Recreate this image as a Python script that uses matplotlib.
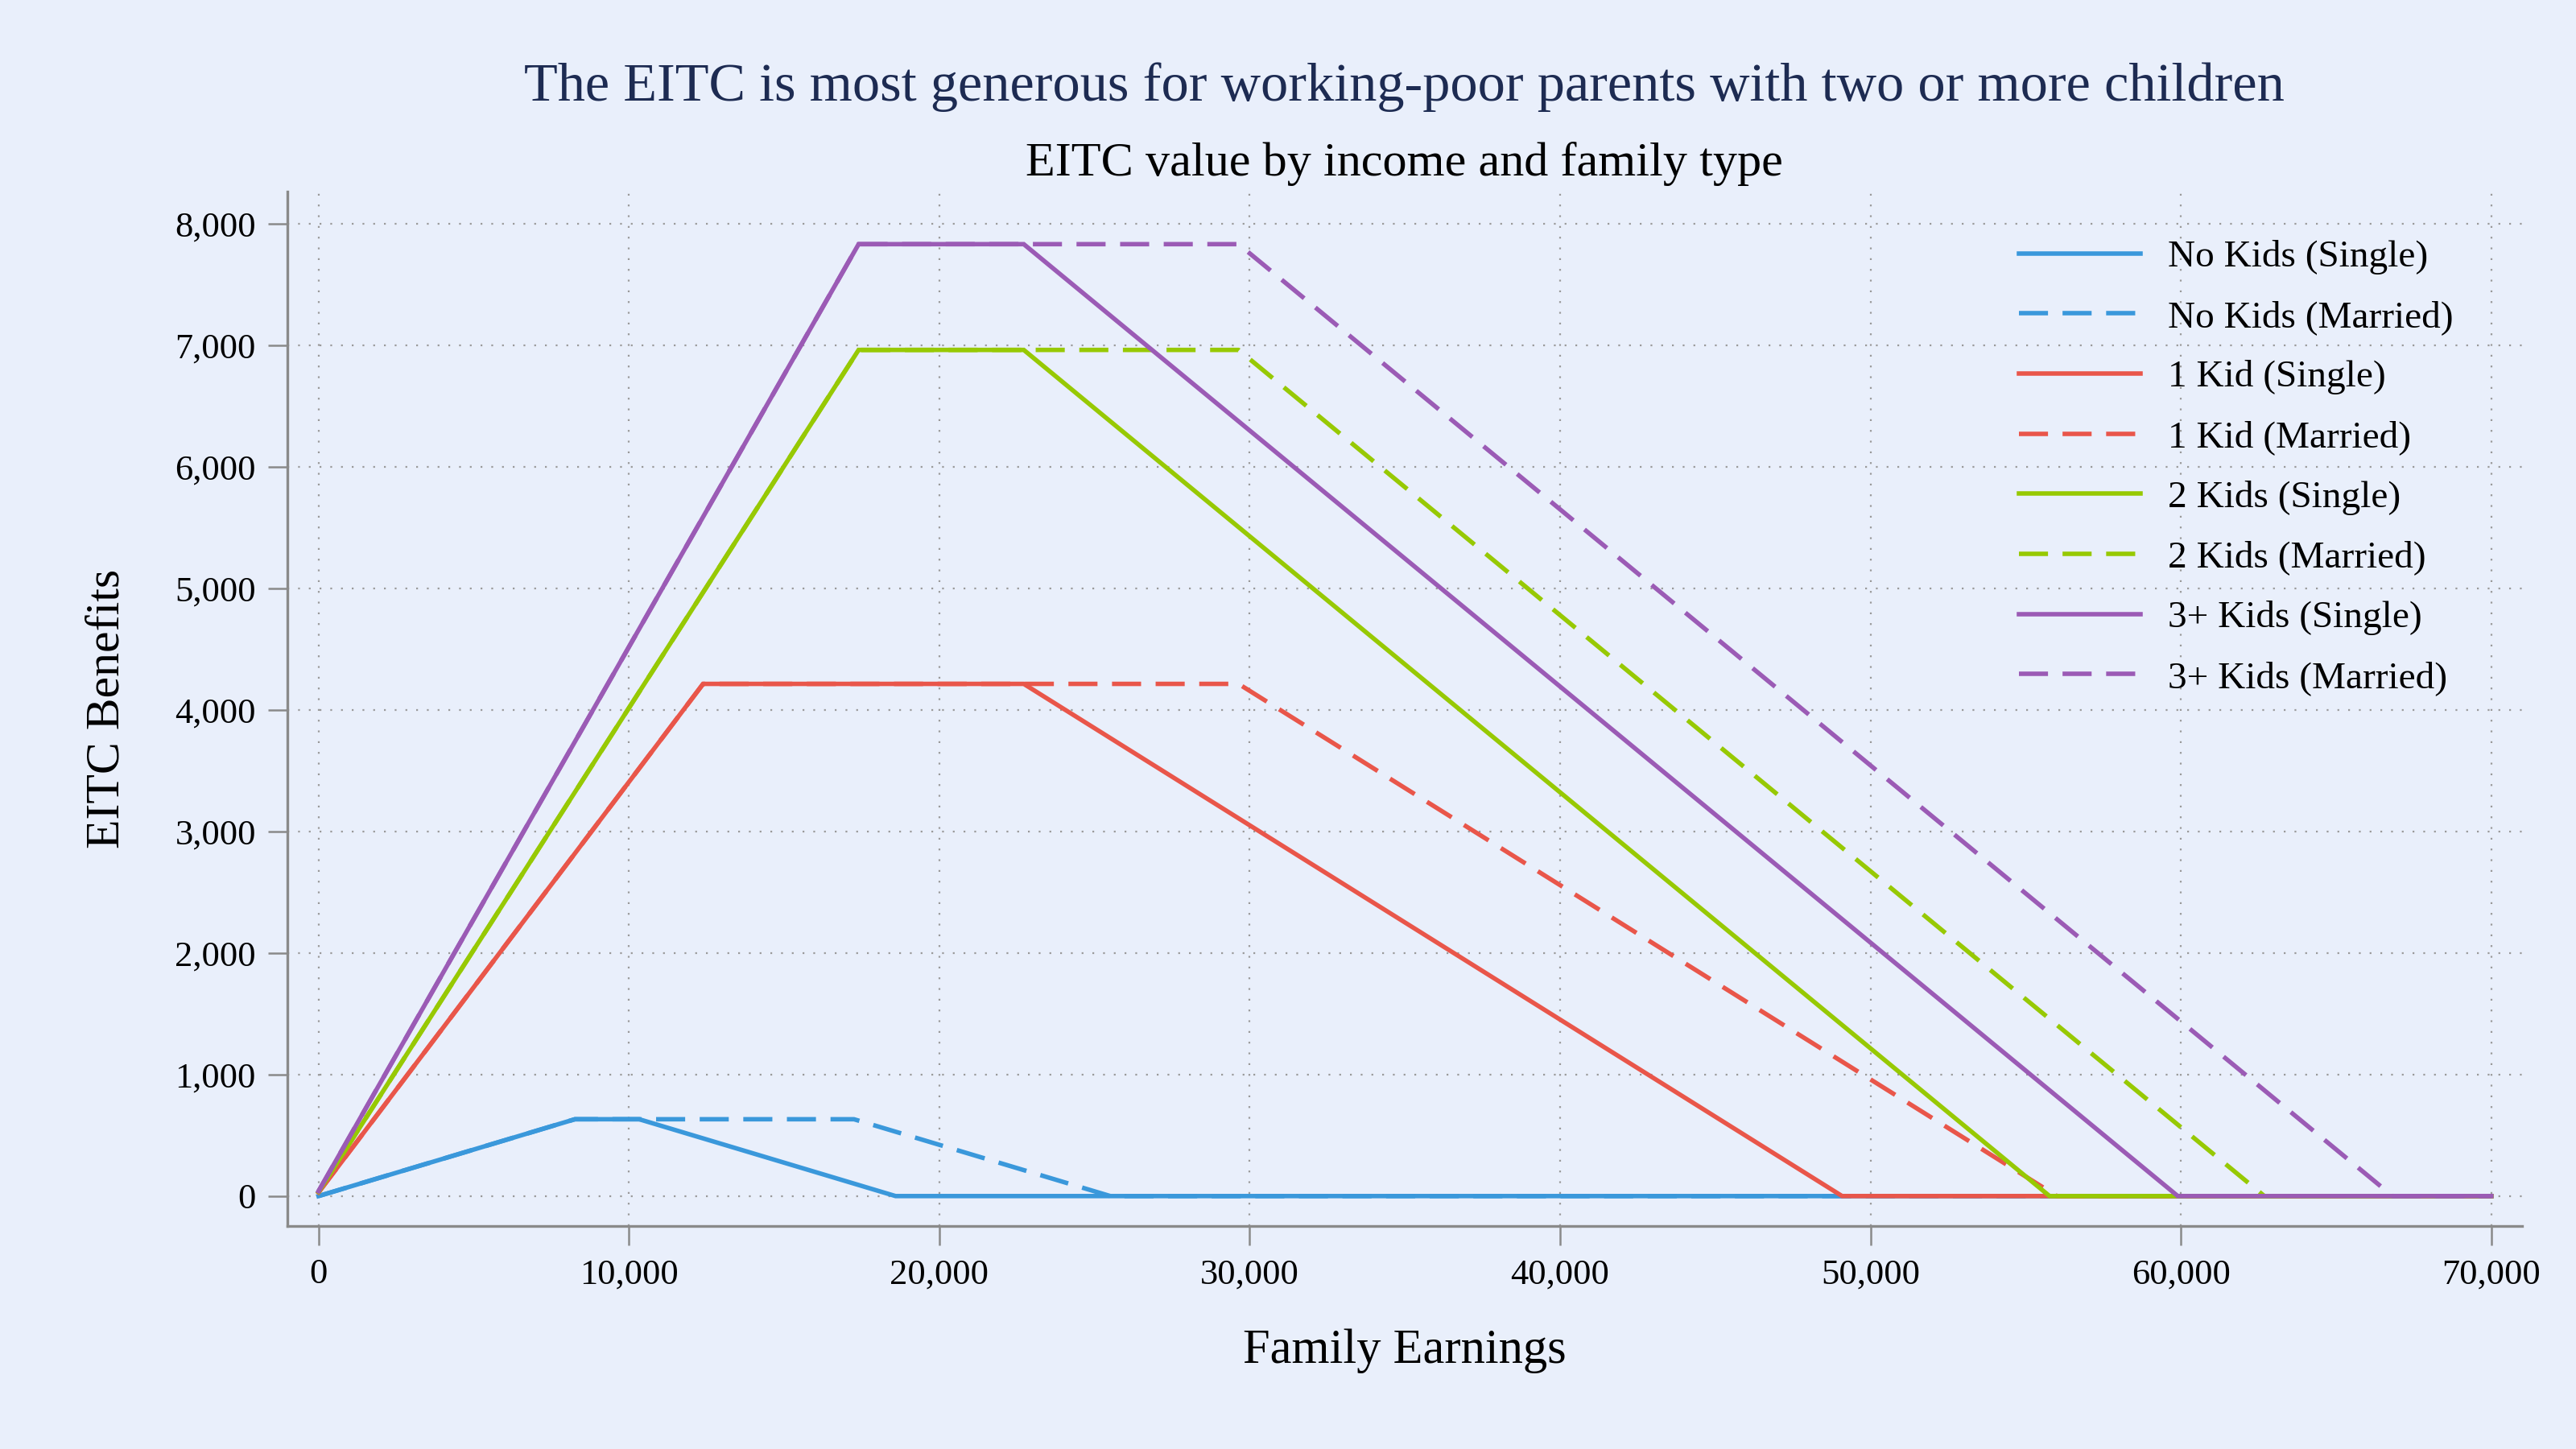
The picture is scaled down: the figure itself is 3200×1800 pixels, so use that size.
import numpy as np
import matplotlib
matplotlib.use("Agg")
import matplotlib.pyplot as plt
from matplotlib.ticker import FuncFormatter

# EITC schedule kink points (earnings, credit)
labels = ["No Kids (Single)", "No Kids (Married)",
          "1 Kid (Single)", "1 Kid (Married)",
          "2 Kids (Single)", "2 Kids (Married)",
          "3+ Kids (Single)", "3+ Kids (Married)"]
colors = ["#3a98db", "#3a98db", "#e9564a", "#e9564a",
          "#97c903", "#97c903", "#9b5bb5", "#9b5bb5"]
married = [False, True, False, True, False, True, False, True]

earn_x = [
    [0, 8260, 10330, 18591, 70000],
    [0, 8260, 17250, 25511, 70000],
    [0, 12390, 22720, 49084, 70000],
    [0, 12390, 29640, 56004, 70000],
    [0, 17400, 22720, 55768, 70000],
    [0, 17400, 29640, 62688, 70000],
    [0, 17400, 22720, 59899, 70000],
    [0, 17400, 29640, 66819, 70000],
]
credit_y = [
    [0, 632, 632, 0, 0],
    [0, 632, 632, 0, 0],
    [30, 4213, 4213, 0, 0],
    [30, 4213, 4213, 0, 0],
    [35, 6960, 6960, 0, 0],
    [35, 6960, 6960, 0, 0],
    [40, 7830, 7830, 0, 0],
    [40, 7830, 7830, 0, 0],
]

xticks = np.arange(0, 70001, 10000)
yticks = np.arange(0, 8001, 1000)

bg = "#e9effb"
axis_grey = "#8a8a8a"

plt.rcParams['font.family'] = ['Liberation Serif', 'DejaVu Serif']
plt.rcParams['lines.scale_dashes'] = False

fig = plt.figure(figsize=(16, 9), dpi=200, facecolor=bg)
ax = fig.add_axes([0.1116, 0.154, 0.979 - 0.1116, 0.868 - 0.154])
ax.set_facecolor(bg)

for xs, ys, c, m, lab in zip(earn_x, credit_y, colors, married, labels):
    ls = (0, (13, 6.5)) if m else '-'
    ax.plot(xs, ys, color=c, lw=2.0, linestyle=ls, label=lab,
            solid_joinstyle='miter', dash_capstyle='butt')

ax.set_xlim(-1000, 70985)
ax.set_ylim(-245, 8265)
ax.set_xticks(xticks)
ax.set_yticks(yticks)
fmt = FuncFormatter(lambda v, p: f"{int(v):,}")
ax.xaxis.set_major_formatter(fmt)
ax.yaxis.set_major_formatter(fmt)

for s in ['top', 'right']:
    ax.spines[s].set_visible(False)
for s in ['left', 'bottom']:
    ax.spines[s].set_color(axis_grey)
    ax.spines[s].set_linewidth(1.2)

ax.tick_params(axis='both', direction='out', length=8.6, width=0.9,
               color=axis_grey, labelsize=16, labelcolor='black')
ax.tick_params(axis='y', pad=5.5)
ax.tick_params(axis='x', pad=6)

ax.grid(True, color='#9a9a9a', linestyle=(0, (0.8, 4)), linewidth=0.8)
ax.set_axisbelow(True)

ax.set_xlabel("Family Earnings", fontsize=21.8)
ax.set_ylabel("EITC Benefits", fontsize=21.5)
ax.xaxis.set_label_coords(0.5, (0.083 - 0.154) / (0.868 - 0.154),
                          transform=ax.transAxes)
ax.yaxis.set_label_coords((0.05 - 0.1116) / (0.979 - 0.1116), 0.5,
                          transform=ax.transAxes)

fig.text(0.545, 0.94, "The EITC is most generous for working-poor parents with two or more children",
         ha='center', va='center', fontsize=24.6, color='#1d2b52')
fig.text(0.545, 0.887, "EITC value by income and family type",
         ha='center', va='center', fontsize=21.7, color='black')

leg = ax.legend(loc='upper left', bbox_to_anchor=(2508 / 3200, 1 - 298 / 1800),
                bbox_transform=fig.transFigure, frameon=False, fontsize=17,
                handlelength=3.2, handletextpad=0.72, labelspacing=0.67,
                borderpad=0, borderaxespad=0)

fig.savefig("out.png", dpi=200, facecolor=bg)
